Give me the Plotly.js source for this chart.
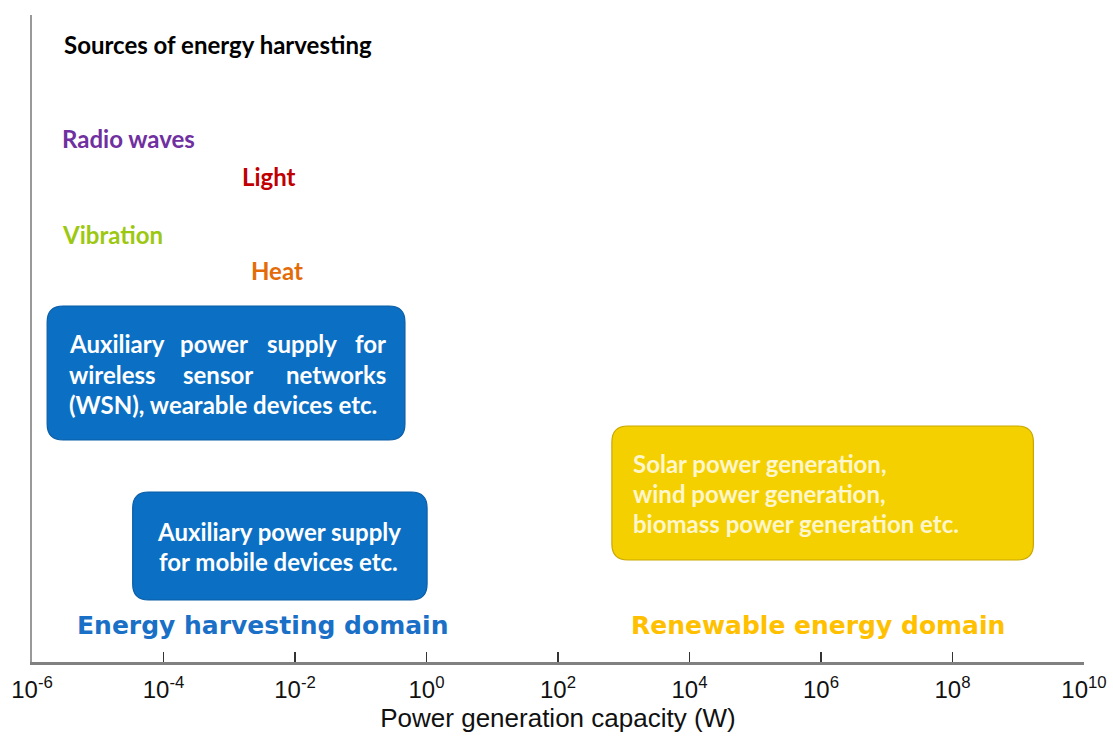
<!DOCTYPE html>
<html>
<head>
<meta charset="utf-8">
<script src="https://cdn.plot.ly/plotly-3.0.1.min.js"></script>
<style>html,body{margin:0;padding:0;background:#fff;}#chart{width:1113px;height:740px;}</style>
</head>
<body>
<div id="chart"></div>
<script>
// ---------- data ----------
const tickExponents = [-6, -4, -2, 0, 2, 4, 6, 8, 10];
const tickLabels = ["10<sup>-6</sup>", "10<sup>-4</sup>", "10<sup>-2</sup>", "10<sup>0</sup>", "10<sup>2</sup>", "10<sup>4</sup>", "10<sup>6</sup>", "10<sup>8</sup>", "10<sup>10</sup>"];
const axisTitle = "Power generation capacity (W)";
const headerText = "Sources of energy harvesting";
const sourceNames = ["Radio waves", "Light", "Vibration", "Heat"];
const sourceMinW = [2.7e-6, 1.45e-3, 2.7e-6, 2.0e-3];   // left edge of each source label (W)
const boxNames = ["wsn", "mobile", "renewable"];
const boxMinW = [1.7e-6, 3.4e-5, 6.6e2];
const boxMaxW = [0.47, 1.02, 1.7e9];
const domainNames = ["Energy harvesting domain", "Renewable energy domain"];
const domainCenterW = [3.2e-3, 8.9e5];

// ---------- layout helpers ----------
const L = 32, R = 1084, T = 15, B = 662;
const pxPerDec = (R - L) / 16;
const px2x = px => (px - L) / pxPerDec - 6;
const py2y = py => B - py;
const lg = Math.log10;

const sourceColors = ["#7030A0", "#C00000", "#9CC812", "#E36C09"];
const sourceY = [138, 176, 234, 270];
const boxTop = [306, 492, 426], boxBot = [440, 600, 560];
const boxFill = ["#0B70C4", "#0B70C4", "#F4D000"];
const boxLine = ["#0A5DA6", "#0A5DA6", "#C9A700"];
const domainColors = ["#1A6FC6", "#FFC000"];

function roundRect(x0, x1, y0, y1, rpx) {
  const rx = rpx / pxPerDec, ry = rpx;
  return `M${x0+rx},${y1} L${x1-rx},${y1} Q${x1},${y1} ${x1},${y1-ry} L${x1},${y0+ry} Q${x1},${y0} ${x1-rx},${y0} L${x0+rx},${y0} Q${x0},${y0} ${x0},${y0+ry} L${x0},${y1-ry} Q${x0},${y1} ${x0+rx},${y1} Z`;
}

const shapes = boxNames.map((n, i) => ({
  type: "path", xref: "x", yref: "y", layer: "below",
  path: roundRect(lg(boxMinW[i]), lg(boxMaxW[i]), py2y(boxBot[i]), py2y(boxTop[i]), 16),
  fillcolor: boxFill[i], line: { color: boxLine[i], width: 1.2 }
}));

const bodyFont = (c, s) => ({ family: "Lato, 'Open Sans', sans-serif", size: s, color: c, weight: 700 });
const ann = [];
function txt(text, x, py, anchor, font) {
  ann.push({ text, x, y: py2y(py), xref: "x", yref: "y", xanchor: anchor, yanchor: "middle", showarrow: false, font, align: "left" });
}

const FS = 24;
txt(headerText, px2x(62), 44, "left", bodyFont("#000000", FS));
sourceNames.forEach((s, i) => txt(s, lg(sourceMinW[i]), sourceY[i], "left", bodyFont(sourceColors[i], FS)));

// box 1 (justified lines)
const wf = bodyFont("#FFFFFF", FS);
txt("Auxiliary", px2x(67), 343, "left", wf);
txt("power", px2x(214), 343, "center", wf);
txt("supply", px2x(302), 343, "center", wf);
txt("for", px2x(388), 343, "right", wf);
txt("wireless", px2x(67), 374, "left", wf);
txt("sensor", px2x(218), 374, "center", wf);
txt("networks", px2x(388), 374, "right", wf);
txt("(WSN), wearable devices etc.", px2x(67), 404, "left", wf);
// box 2
txt("Auxiliary power supply", px2x(278.5), 531, "center", wf);
txt("for mobile devices etc.", px2x(278.5), 561, "center", wf);
// box 3
const cf = bodyFont("#FFF6CC", FS);
txt("Solar power generation,", px2x(631), 463, "left", cf);
txt("wind power generation,", px2x(631), 493, "left", cf);
txt("biomass power generation etc.", px2x(631), 523, "left", cf);
// domains
domainNames.forEach((d, i) => txt(d, lg(domainCenterW[i]), 625, "center",
  { family: "'DejaVu Sans', sans-serif", size: 25, color: domainColors[i], weight: 700 }));

const axFont = "'Liberation Sans', Arial, sans-serif";
const layout = {
  width: 1113, height: 740,
  margin: { l: L, r: 1113 - R, t: T, b: 740 - B },
  paper_bgcolor: "#ffffff", plot_bgcolor: "#ffffff",
  showlegend: false,
  xaxis: {
    range: [-6, 10], tickmode: "array", tickvals: tickExponents, ticktext: tickLabels,
    showline: true, linecolor: "#808080", linewidth: 2.5, mirror: false,
    ticks: "inside", ticklen: 10, tickwidth: 1.5, tickcolor: "#333333",
    ticklabelstandoff: 5,
    showgrid: false, zeroline: false, fixedrange: true,
    tickfont: { family: axFont, size: 24, color: "#111111" },
    title: { text: axisTitle, font: { family: axFont, size: 26, color: "#111111" }, standoff: 0 }
  },
  yaxis: {
    range: [0, B - T], showline: true, linecolor: "#999999", linewidth: 2.5,
    showticklabels: false, ticks: "", showgrid: false, zeroline: false, fixedrange: true
  },
  shapes, annotations: ann
};

Plotly.newPlot("chart", [], layout, { displayModeBar: false, staticPlot: true });
</script>
</body>
</html>
